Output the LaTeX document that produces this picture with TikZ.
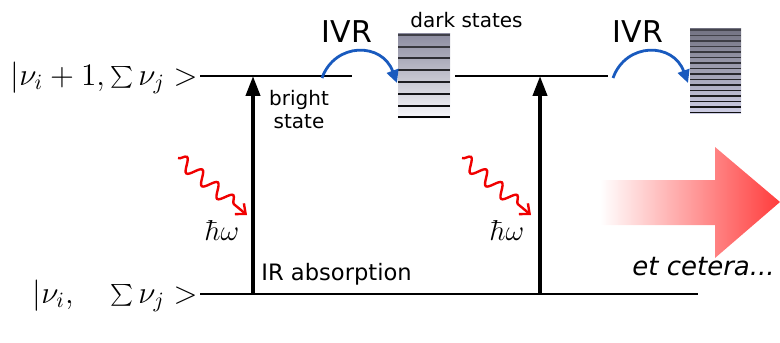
\documentclass[tikz,border=0pt]{standalone}
\usepackage{fontspec}
\setsansfont{DejaVu Sans}
\usetikzlibrary{positioning,calc}
\usetikzlibrary{arrows.meta,decorations.pathmorphing}
\definecolor{IvrBlue}{RGB}{25,90,190}
\definecolor{PhotonRed}{RGB}{240,0,0}
\definecolor{EtcRed}{RGB}{255,60,60}
\definecolor{DarkTop}{RGB}{140,140,160}
\definecolor{DarkBot}{RGB}{248,248,252}
\definecolor{DenseTop}{RGB}{115,115,130}
\definecolor{DenseBot}{RGB}{205,205,228}
\tikzset{
  ket/.style={inner sep=0pt,font=\fontsize{14.4}{18}\selectfont},
  level/.style={draw=black,line width=1pt},
  absorb/.style={draw=black,line width=2pt,-{Triangle[length=10pt,width=7pt]}},
  ivr/.style={draw=IvrBlue,line width=1.4pt,-{Triangle[length=6.5pt,width=6pt]}},
  photon/.style={draw=PhotonRed,line width=1.2pt,decorate,
    decoration={snake,amplitude=3.3pt,segment length=10pt,post length=5pt},
    -{Straight Barb[length=4pt,width=7pt]}},
  lbl/.style={inner sep=0pt,font=\sffamily\fontsize{10}{11.5}\selectfont},
}

\begin{document}
\begin{tikzpicture}[x=0.5pt,y=-0.5pt]
  \useasboundingbox (0,0) rectangle (780,342);
  % vibrational levels
  \node[ket,anchor=base east] (upket) at (198,85) {\scalebox{1.09}{$|\nu_i+1,\sum\nu_j>$}};
  \node[ket,anchor=base east] (lowket) at (198,303) {\scalebox{1.09}{$|\nu_i,\quad\sum\nu_j>$}};
  \coordinate (u1) at (200,76);
  \coordinate (u2) at (352,76);
  \coordinate (u3) at (455,76);
  \coordinate (u4) at (608,76);
  \coordinate (g1) at (200,294);
  \coordinate (g2) at (698,294);
  \foreach \i/\j in {u1/u2,u3/u4,g1/g2}
    \draw[level] (\i)--(\j);
  % dark state manifolds
  \shade[top color=DarkTop,bottom color=DarkBot] (398,34) rectangle (450,118);
  \foreach \k in {0,...,7}{
    \pgfmathtruncatemacro{\shadeval}{55+\k*6}
    \draw[black!\shadeval!DarkTop,line width=1pt] (398,35+\k*11.75) -- (450,35+\k*11.75);
  }
  \shade[top color=DenseTop,bottom color=DenseBot] (690,29) rectangle (741,113);
  \foreach \k in {0,...,15}{
    \pgfmathtruncatemacro{\shadeval}{40+\k*3}
    \draw[black!\shadeval!DenseTop,line width=0.8pt] (690,30+\k*5.5) -- (741,30+\k*5.5);
  }
  \node[lbl,anchor=base west] (dark) at (410,28) {dark states};
  % IVR hops
  \coordinate (h1) at (322,78);
  \coordinate (h2) at (397,83);
  \coordinate (h3) at (613,78);
  \coordinate (h4) at (688,83);
  \draw[ivr] (h1) .. controls (335,42) and (382,42) .. (h2);
  \draw[ivr] (h3) .. controls (626,42) and (673,42) .. (h4);
  \node[lbl,font=\sffamily\fontsize{15}{18}\selectfont,anchor=base] (ivrA) at (347,43) {IVR};
  \node[lbl,font=\sffamily\fontsize{15}{18}\selectfont,anchor=base] (ivrB) at (638,43) {IVR};
  % absorption
  \coordinate (a1) at (253,294);
  \coordinate (b1) at (253,76);
  \coordinate (a2) at (540,294);
  \coordinate (b2) at (540,76);
  \draw[absorb] (a1)--(b1);
  \draw[absorb] (a2)--(b2);
  \node[lbl,align=center] (bright) at (299,110) {bright\\state};
  \node[lbl,font=\sffamily\fontsize{11.3}{13}\selectfont,anchor=base west] (irabs) at (261,280) {IR absorption};
  % photons
  \coordinate (p1) at (178,158);
  \coordinate (q1) at (247,215);
  \coordinate (p2) at (462,158);
  \coordinate (q2) at (531,215);
  \draw[photon] (p1)--(q1);
  \draw[photon] (p2)--(q2);
  \node[ket] (hw1) at (222,230) {$\hbar\omega$};
  \node[ket] (hw2) at (507,230) {$\hbar\omega$};
  % and so on
  \shade[left color=white,right color=EtcRed]
    (600,180) -- (715,180) -- (715,147) -- (780,202) -- (715,258) -- (715,225) -- (600,225) -- cycle;
  \node[lbl,font=\sffamily\itshape\fontsize{13}{15}\selectfont,anchor=base west] (etc) at (632,275) {et cetera...};
\end{tikzpicture}
\end{document}
